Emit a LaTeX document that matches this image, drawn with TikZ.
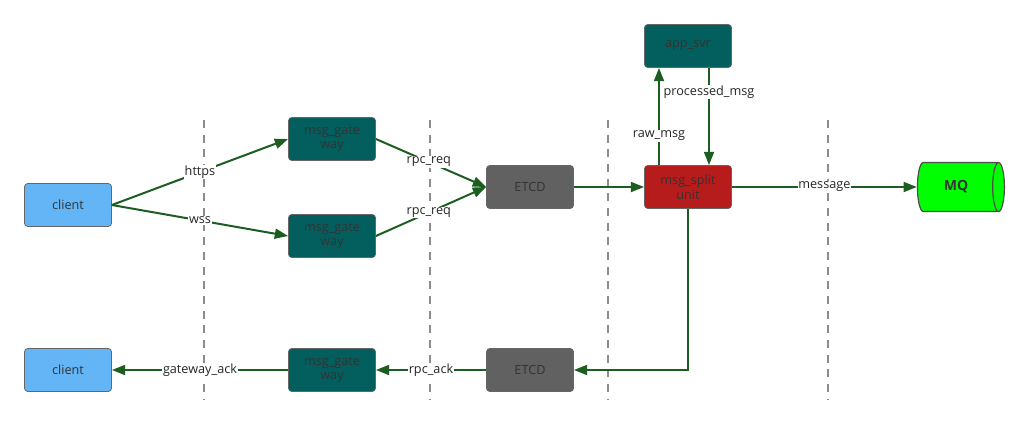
\documentclass[tikz,border=0pt]{standalone}
\usepackage{fontspec}
\setmainfont{Open Sans}
\usetikzlibrary{arrows.meta,shapes.geometric}
\definecolor{clientblue}{HTML}{64B5F6}
\definecolor{gwteal}{HTML}{035E5E}
\definecolor{etcdgray}{HTML}{616161}
\definecolor{splitred}{HTML}{B71C1C}
\definecolor{mqgreen}{HTML}{00FF00}
\definecolor{flowgreen}{HTML}{1B5E20}
\definecolor{txtgray}{HTML}{333333}
\tikzset{
  box/.style={draw=black!60,rounded corners=2.5pt,minimum width=87*0.75pt,minimum height=43*0.75pt,
    inner sep=1pt,align=center,text=txtgray,font=\fontsize{9.5}{11}\selectfont,line width=0.6pt},
  flow/.style={draw=flowgreen,line width=1.5pt,-{Triangle[length=10pt,width=7.5pt]}},
  lbl/.style={fill=white,inner sep=0.5pt,text=black!85,font=\fontsize{9.5}{11}\selectfont},
  sep/.style={draw=black!45,dashed,dash pattern=on 6pt off 5pt,line width=1pt}
}
\begin{document}
\begin{tikzpicture}[x=0.75pt,y=-0.75pt]
\useasboundingbox (0,0) rectangle (1025,426);
\foreach \sx in {204,430,608,828} \draw[sep] (\sx,120) -- (\sx,400);
\node[box,fill=clientblue] (client) at (68,205) {client};
\node[box,fill=gwteal] (gwa) at (332,139) {msg\_gate\\way};
\node[box,fill=gwteal] (gwb) at (332,236) {msg\_gate\\way};
\node[box,fill=etcdgray] (etcd) at (530,187) {ETCD};
\node[box,fill=gwteal] (app) at (688,46) {app\_svr};
\node[box,fill=splitred] (split) at (688,187) {msg\_split\\unit};
\node[cylinder,draw=black!70,line width=0.9pt,fill=mqgreen,minimum width=49*0.75pt,minimum height=87*0.75pt,
  aspect=0.55,text=txtgray,font=\fontsize{10.5}{12}\selectfont\bfseries] (mq) at (956,187) {MQ};
\node[box,fill=clientblue] (clientb) at (68,370) {client};
\node[box,fill=gwteal] (gwc) at (332,370) {msg\_gate\\way};
\node[box,fill=etcdgray] (etcdb) at (530,370) {ETCD};
\draw[flow] (client.east) -- (gwa.west) node[lbl,pos=0.5] {https};
\draw[flow] (client.east) -- (gwb.west) node[lbl,pos=0.5] {wss};
\draw[flow] (gwa.east) -- (etcd.west) node[lbl,pos=0.48] {rpc\_req};
\draw[flow] (gwb.east) -- (etcd.west) node[lbl,pos=0.48] {rpc\_req};
\draw[flow] (etcd) -- (split);
\draw[flow] ([xshift=-29*0.75pt]split.north) -- ([xshift=-29*0.75pt]app.south) node[lbl,pos=0.3] {raw\_msg};
\draw[flow] ([xshift=21*0.75pt]app.south) -- ([xshift=21*0.75pt]split.north) node[lbl,pos=0.25] {processed\_msg};
\draw[flow] (split) -- (mq) node[lbl,pos=0.5] {message};
\draw[flow] (split.south) |- (etcdb.east);
\draw[flow] (etcdb) -- (gwc) node[lbl,pos=0.5] {rpc\_ack};
\draw[flow] (gwc) -- (clientb) node[lbl,pos=0.5] {gateway\_ack};
\end{tikzpicture}
\end{document}
